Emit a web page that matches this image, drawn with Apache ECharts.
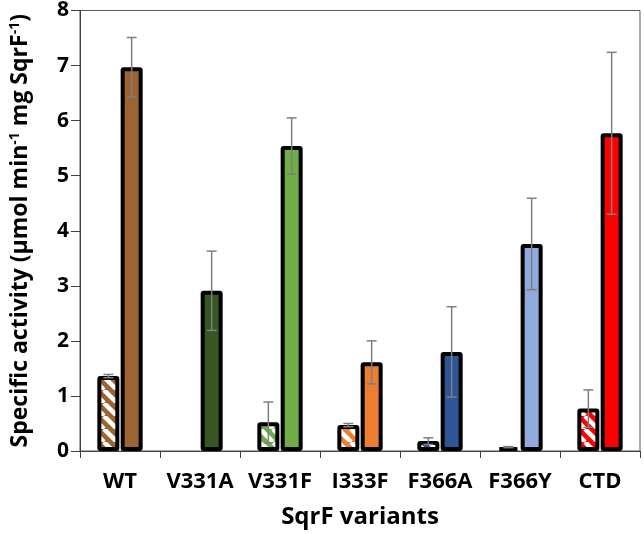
<!DOCTYPE html>
<html>
<head>
<meta charset="utf-8">
<script src="https://cdn.jsdelivr.net/npm/echarts@6/dist/echarts.min.js"></script>
<style>html,body{margin:0;padding:0;background:#fff}#c{width:644px;height:534px}</style>
</head>
<body>
<div id="c"></div>
<script>
const categories = ['WT','V331A','V331F','I333F','F366A','F366Y','CTD'];
const colors = ['#9C6430','#375623','#70AD47','#ED7D31','#2F5597','#8FAADC','#FF0000'];
const hatchedValues = [1.36, null, 0.52, 0.47, 0.18, 0.07, 0.77];
const hatchedErrors = [0.03, null, 0.37, 0.03, 0.06, 0.01, 0.34];
const solidValues = [6.97, 2.91, 5.54, 1.61, 1.80, 3.76, 5.77];
const solidErrors = [0.54, 0.72, 0.51, 0.39, 0.82, 0.83, 1.47];
const yTicks = [0,1,2,3,4,5,6,7,8];

const FONT = '"Open Sans", sans-serif';
const BAR_W = 22;
const BAR_GAP = 0.06;
const OFFSET = (BAR_W * (1 + BAR_GAP)) / 2;

function hatch(color) {
  const s = 13;
  const cv = document.createElement('canvas');
  cv.width = s; cv.height = s;
  const ctx = cv.getContext('2d');
  ctx.fillStyle = color;
  ctx.fillRect(0, 0, s, s);
  ctx.strokeStyle = '#ffffff';
  ctx.lineWidth = 4.5;
  for (const d of [-s, 0, s]) {
    ctx.beginPath();
    ctx.moveTo(d, 0);
    ctx.lineTo(d + s, s);
    ctx.stroke();
  }
  return { image: cv, repeat: 'repeat' };
}

const hatchedData = hatchedValues.map((v, i) => v == null ? '-' : {
  value: v, itemStyle: { color: hatch(colors[i]) }
});
const solidData = solidValues.map((v, i) => ({ value: v, itemStyle: { color: colors[i] } }));

function errData(vals, errs) {
  return vals.map((v, i) => v == null ? [i, null, null] : [i, v - errs[i], v + errs[i]]);
}

function errSeries(vals, errs, dir) {
  return {
    type: 'custom',
    z: 5,
    silent: true,
    data: errData(vals, errs).filter(d => d[1] != null),
    encode: { x: 0, y: [1, 2] },
    renderItem: function (params, api) {
      const i = api.value(0);
      const lo = api.coord([i, api.value(1)]);
      const hi = api.coord([i, api.value(2)]);
      const x = lo[0] + dir * OFFSET;
      const cap = 5;
      const st = { stroke: '#7F7F7F', lineWidth: 1.5 };
      return {
        type: 'group',
        children: [
          { type: 'line', shape: { x1: x, y1: lo[1], x2: x, y2: hi[1] }, style: st },
          { type: 'line', shape: { x1: x - cap, y1: hi[1], x2: x + cap, y2: hi[1] }, style: st },
          { type: 'line', shape: { x1: x - cap, y1: lo[1], x2: x + cap, y2: lo[1] }, style: st }
        ]
      };
    }
  };
}

const chart = echarts.init(document.getElementById('c'), null, { renderer: 'canvas' });
chart.setOption({
  animation: false,
  backgroundColor: '#fff',
  grid: { left: 77, right: 4, top: 10, bottom: 81, show: true, borderColor: '#595959', borderWidth: 1, containLabel: false },
  xAxis: {
    type: 'category',
    data: categories,
    name: 'SqrF variants',
    nameLocation: 'middle',
    nameGap: 54,
    nameTextStyle: { fontFamily: FONT, fontWeight: 'bold', fontSize: 24, color: '#000' },
    axisLine: { lineStyle: { color: '#404040', width: 1 } },
    axisTick: { show: true, length: 7, lineStyle: { color: '#404040' } },
    axisLabel: { interval: 0, fontFamily: FONT, fontWeight: 'bold', fontSize: 22, color: '#000', margin: 20 }
  },
  yAxis: {
    type: 'value',
    min: yTicks[0],
    max: yTicks[yTicks.length - 1],
    interval: 1,
    name: '{n|Specific activity (µmol min}{s|-1}{n| mg SqrF}{s|-1}{n|)}',
    nameLocation: 'middle',
    nameGap: 47,
    nameTextStyle: {
      rich: {
        n: { fontFamily: FONT, fontWeight: 'bold', fontSize: 23, color: '#000' },
        s: { fontFamily: FONT, fontWeight: 'bold', fontSize: 14, color: '#000', verticalAlign: 'top', padding: [0, 0, 11, 0] }
      }
    },
    axisLine: { show: true, lineStyle: { color: '#404040', width: 1 } },
    axisTick: { show: true, length: 9, lineStyle: { color: '#404040' } },
    splitLine: { show: false },
    axisLabel: { fontFamily: FONT, fontWeight: 'bold', fontSize: 21, color: '#000', margin: 11 }
  },
  series: [
    {
      type: 'bar', data: hatchedData, barWidth: BAR_W, barGap: (BAR_GAP * 100) + '%',
      itemStyle: { borderColor: '#000', borderWidth: 4, borderRadius: 1 }
    },
    {
      type: 'bar', data: solidData, barWidth: BAR_W,
      itemStyle: { borderColor: '#000', borderWidth: 4, borderRadius: 1 }
    },
    errSeries(hatchedValues, hatchedErrors, -1),
    errSeries(solidValues, solidErrors, 1)
  ]
});
</script>
</body>
</html>
